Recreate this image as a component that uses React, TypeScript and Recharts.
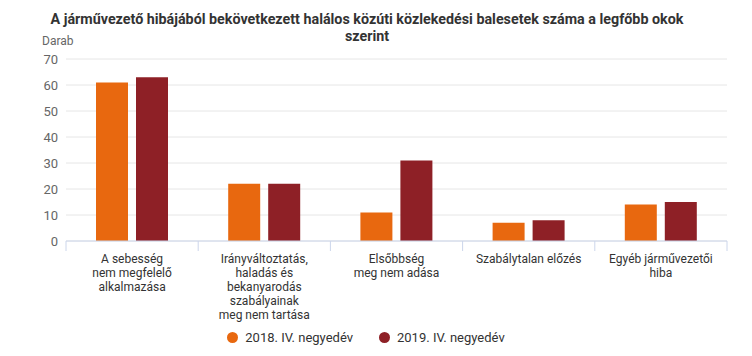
import { BarChart, Bar, XAxis, YAxis, CartesianGrid } from "recharts";

const categories = [
  "A sebesség\nnem megfelelő\nalkalmazása",
  "Irányváltoztatás,\nhaladás és\nbekanyarodás\nszabályainak\nmeg nem tartása",
  "Elsőbbség\nmeg nem adása",
  "Szabálytalan előzés",
  "Egyéb járművezetői\nhiba",
];
const series2018 = [61, 22, 11, 7, 14];
const series2019 = [63, 22, 31, 8, 15];
const yTicks = [0, 10, 20, 30, 40, 50, 60, 70];

const SERIES = [
  { key: "q2018", name: "2018. IV. negyedév", color: "#E8680F" },
  { key: "q2019", name: "2019. IV. negyedév", color: "#8E2026" },
];

const data = categories.map((c, i) => ({
  cat: c,
  q2018: series2018[i],
  q2019: series2019[i],
}));

const W = 752;
const H = 356;
const M = { top: 59, right: 25, bottom: 0, left: 0 };
const Y_W = 66;
const X_H = 115;
const BAND = (W - M.left - M.right - Y_W) / categories.length;
const FONT = "Roboto, sans-serif";

function CatTick(props: any) {
  const { x, y, payload, index } = props;
  const lines = String(payload.value).split("\n");
  const left = x - BAND / 2;
  return (
    <g>
      <line x1={left} x2={left} y1={y - 8} y2={y + 2} stroke="#ccd6eb" />
      {index === categories.length - 1 && (
        <line x1={x + BAND / 2} x2={x + BAND / 2} y1={y - 8} y2={y + 2} stroke="#ccd6eb" />
      )}
      <text x={x} y={y + 14} textAnchor="middle" fill="#333" fontSize={12} fontFamily={FONT}>
        {lines.map((l, i) => (
          <tspan key={i} x={x} dy={i === 0 ? 0 : 14}>
            {l}
          </tspan>
        ))}
      </text>
    </g>
  );
}

export default function App() {
  return (
    <div style={{ position: "absolute", left: 0, top: 0, width: W, height: H, background: "#fff", fontFamily: FONT }}>
      <div
        style={{
          position: "absolute",
          left: 0,
          width: 734,
          top: 11,
          textAlign: "center",
          fontSize: 14.3,
          fontWeight: 700,
          lineHeight: "17px",
          color: "#333",
        }}
      >
        A járművezető hibájából bekövetkezett halálos közúti közlekedési balesetek száma a legfőbb okok
        <br />
        szerint
      </div>
      <div style={{ position: "absolute", left: 42, top: 34, fontSize: 12, color: "#666" }}>Darab</div>
      <BarChart width={W} height={H} data={data} margin={M} barSize={32} barGap={8}>
        <CartesianGrid vertical={false} stroke="#e6e6e6" />
        <XAxis
          dataKey="cat"
          interval={0}
          height={X_H}
          axisLine={{ stroke: "#ccd6eb" }}
          tickLine={false}
          tick={<CatTick />}
        />
        <YAxis
          width={Y_W}
          domain={[0, 70]}
          ticks={yTicks}
          axisLine={false}
          tickLine={false}
          tick={{ fill: "#666", fontSize: 13, fontFamily: FONT }}
        />
        {SERIES.map((s) => (
          <Bar key={s.key} dataKey={s.key} name={s.name} fill={s.color} isAnimationActive={false} />
        ))}
      </BarChart>
      <div
        style={{
          position: "absolute",
          top: 330,
          left: 0,
          width: 732,
          display: "flex",
          justifyContent: "center",
          gap: 26,
          fontSize: 13,
          color: "#333",
        }}
      >
        {SERIES.map((s) => (
          <div key={s.key} style={{ display: "flex", alignItems: "center" }}>
            <span
              style={{
                width: 11,
                height: 11,
                borderRadius: 6,
                background: s.color,
                display: "inline-block",
                marginRight: 7,
              }}
            />
            {s.name}
          </div>
        ))}
      </div>
    </div>
  );
}
